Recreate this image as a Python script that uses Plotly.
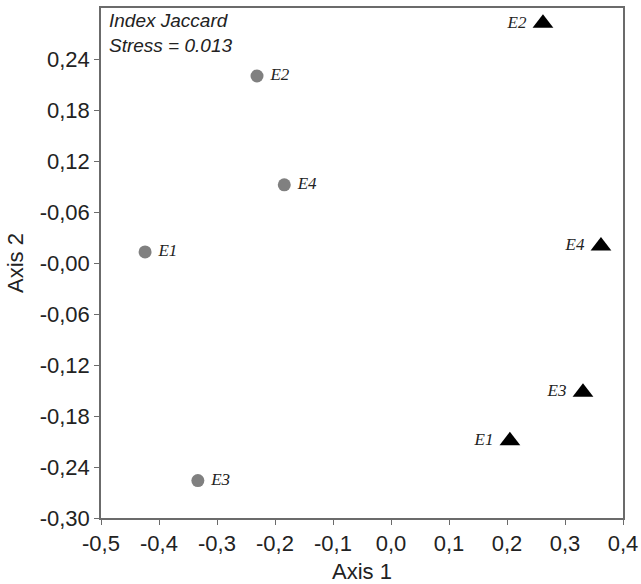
import plotly.graph_objects as go

# Data
circle_labels = ["E1", "E2", "E3", "E4"]
circle_x = [-0.424, -0.231, -0.333, -0.184]
circle_y = [0.013, 0.220, -0.256, 0.092]

tri_labels = ["E1", "E2", "E3", "E4"]
tri_x = [0.205, 0.262, 0.331, 0.362]
tri_y = [-0.209, 0.282, -0.152, 0.020]

x_ticks = [-0.5, -0.4, -0.3, -0.2, -0.1, 0.0, 0.1, 0.2, 0.3, 0.4]
x_ticktext = ["-0,5", "-0,4", "-0,3", "-0,2", "-0,1", "0,0", "0,1", "0,2", "0,3", "0,4"]
y_ticks = [-0.30, -0.24, -0.18, -0.12, -0.06, 0.0, 0.06, 0.12, 0.18, 0.24]
y_ticktext = ["-0,30", "-0,24", "-0,18", "-0,12", "-0,06", "-0,00", "-0,06", "0,12", "0,18", "0,24"]

label_font = dict(family="Liberation Serif", size=17, color="#222222", style="italic")

fig = go.Figure()
fig.add_trace(go.Scatter(
    x=circle_x, y=circle_y, mode="markers+text", text=[" " + t for t in circle_labels],
    textposition="middle right", textfont=label_font,
    marker=dict(symbol="circle", size=13, color="#808080"),
    showlegend=False, cliponaxis=False))
fig.add_trace(go.Scatter(
    x=tri_x, y=tri_y, mode="markers+text", text=[t + " " for t in tri_labels],
    textposition="middle left", textfont=label_font,
    marker=dict(symbol="triangle-up", size=18, color="#000000"),
    showlegend=False, cliponaxis=False))

fig.add_annotation(
    xref="paper", yref="paper", x=0.012, y=1.0, xanchor="left", yanchor="top",
    text="<i>Index Jaccard</i><br><i>Stress = 0.013</i>", showarrow=False, align="left",
    font=dict(family="Liberation Sans", size=19, color="#222222"))

axis_common = dict(
    showgrid=False, zeroline=False, showline=True, linecolor="#6b6b6b", linewidth=1.5,
    mirror=True, ticks="outside", ticklen=5, tickcolor="#6b6b6b", tickwidth=1,
    tickfont=dict(family="Liberation Sans", size=22, color="#222222"),
    automargin=False,
)

fig.update_xaxes(range=[-0.5, 0.4], tickvals=x_ticks, ticktext=x_ticktext,
                 title=dict(text="Axis 1", font=dict(family="Liberation Sans", size=22, color="#222222"), standoff=8),
                 **axis_common)
fig.update_yaxes(range=[-0.30, 0.30], tickvals=y_ticks, ticktext=y_ticktext,
                 title=dict(text="Axis 2", font=dict(family="Liberation Sans", size=22, color="#222222"), standoff=10),
                 **axis_common)

fig.update_layout(
    width=641, height=584,
    margin=dict(l=101, r=18, t=8, b=66),
    plot_bgcolor="white", paper_bgcolor="white",
)

fig.write_html("out.html", config={"displayModeBar": False},
               post_script="document.body.style.margin='0';")
